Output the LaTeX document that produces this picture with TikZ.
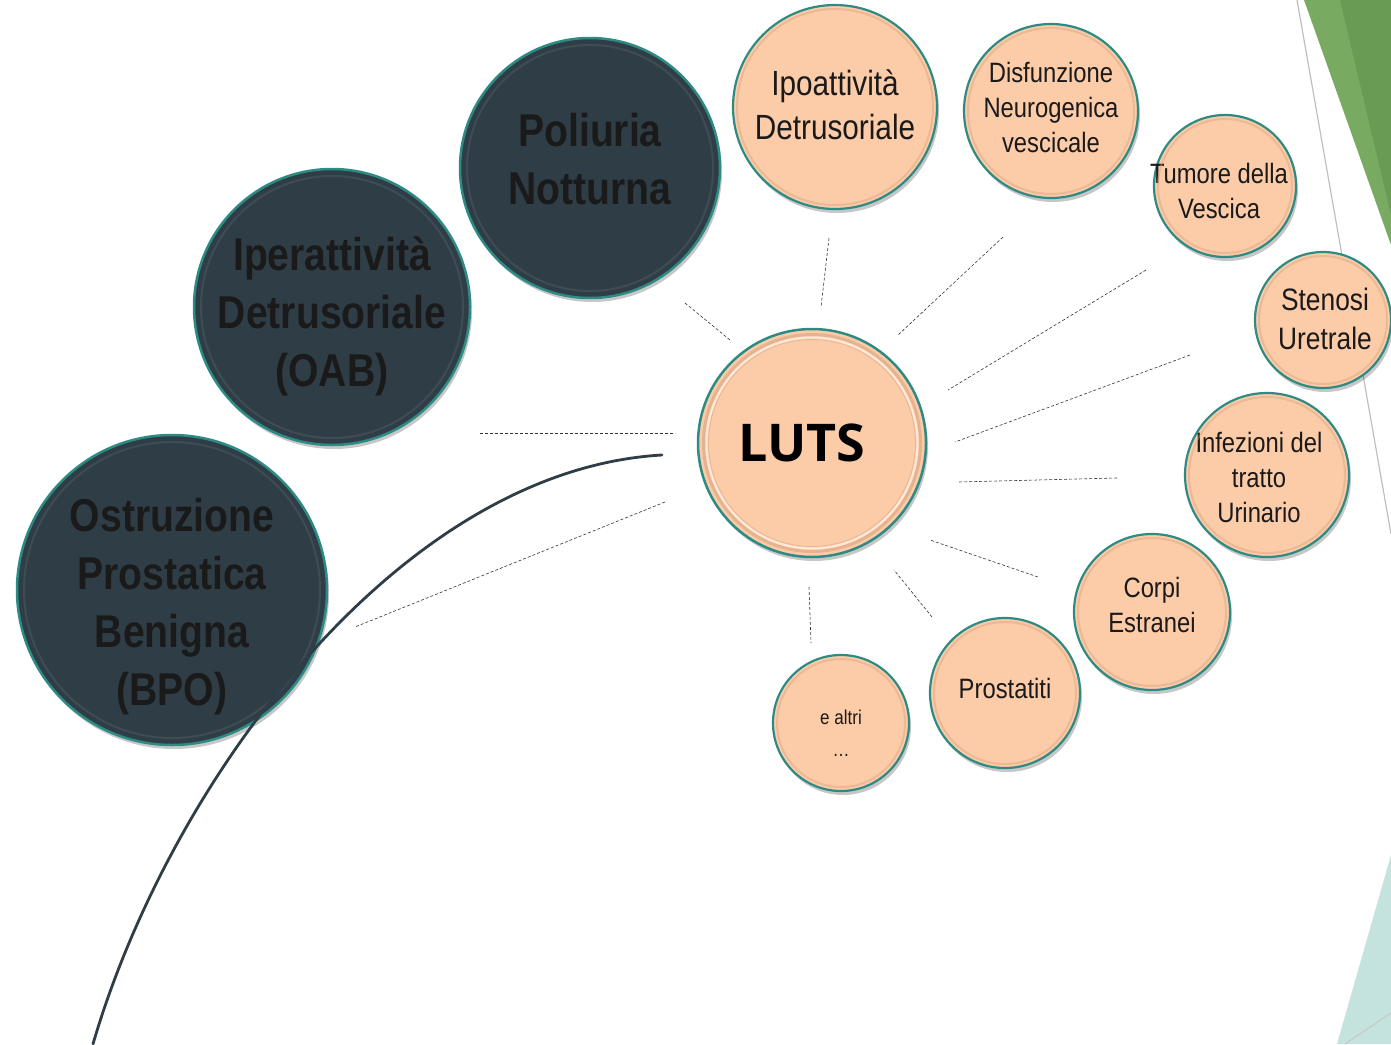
\documentclass[tikz,border=0pt]{standalone}
\usepackage{fontspec}
\setmainfont{Liberation Sans}
\newfontfamily\narrow[FakeStretch=0.85]{Liberation Sans}
\newfontfamily\lutsfont{Open Sans}
\usetikzlibrary{shadows}
\definecolor{darkfill}{HTML}{2F3D46}
\definecolor{peach}{HTML}{FCCBA8}
\definecolor{peachdark}{HTML}{D9A27E}
\definecolor{rim}{HTML}{2E8B84}
\definecolor{greenA}{HTML}{78AA62}
\definecolor{greenB}{HTML}{6A9B55}
\definecolor{tealbg}{HTML}{C4E3DF}
\definecolor{txt}{HTML}{1A1A1A}
\newcommand{\ctext}[2][0pt]{\makebox[0pt]{\smash{\raisebox{#1}{\begin{tabular}{@{}c@{}}#2\end{tabular}}}}}
\tikzset{
  ball/.style={circle, inner sep=0pt, outer sep=0pt, text=txt,
    drop shadow={shadow xshift=2pt, shadow yshift=-4pt, opacity=0.22, fill=black}},
  darkball/.style={ball, fill=darkfill, draw=rim, line width=2.5pt,
    font=\narrow\bfseries\fontsize{46}{58}\selectfont},
  peachball/.style={ball, fill=peach, draw=rim, line width=2.2pt,
    font=\narrow\fontsize{28}{35}\selectfont},
  innerrim/.style={peachdark, line width=2pt, opacity=0.45},
  darkrim/.style={white, line width=2pt, opacity=0.08},
  spoke/.style={densely dashed, line width=0.6pt, black!80},
  arcline/.style={line width=2.8pt, darkfill, line cap=round}
}
\begin{document}
\begin{tikzpicture}[x=1pt, y=-1pt]
\useasboundingbox (0,0) rectangle (1391,1044);
% background decorations
\fill[greenA] (1304,0) -- (1391,0) -- (1391,245) -- cycle;
\fill[greenB] (1340,0) -- (1391,0) -- (1391,215) -- cycle;
\draw[black!25, line width=1.2pt] (1297,0) -- (1391,534);
\fill[tealbg] (1391,855) -- (1391,1044) -- (1337,1044) -- cycle;
\draw[black!22, line width=1pt] (1391,1013) -- (1345,1044);

% spoke end points
\coordinate (s1a) at (685,303); \coordinate (s1b) at (730,340);
\coordinate (s2a) at (829,238); \coordinate (s2b) at (821,307);
\coordinate (s3a) at (1003,237); \coordinate (s3b) at (898,335);
\coordinate (s4a) at (1146,270); \coordinate (s4b) at (948,390);
\coordinate (s5a) at (1190,355); \coordinate (s5b) at (955,442);
\coordinate (s6a) at (1117,478); \coordinate (s6b) at (958,482);
\coordinate (s7a) at (1038,577); \coordinate (s7b) at (930,540);
\coordinate (s8a) at (932,617); \coordinate (s8b) at (894,570);
\coordinate (s9a) at (809,587); \coordinate (s9b) at (811,643);
\coordinate (s10a) at (665,502); \coordinate (s10b) at (355,627);
\coordinate (s11a) at (480,433); \coordinate (s11b) at (675,433);
\foreach \i in {1,...,11} \draw[spoke] (s\i a) -- (s\i b);

% dark circles
\node[darkball, minimum size=310] (bpo) at (172,590) {\ctext[-23pt]{Ostruzione\\Prostatica\\Benigna\\(BPO)}};
\node[darkball, minimum size=276] (oab) at (332,307) {\ctext[-16pt]{Iperattività\\Detrusoriale\\(OAB)}};
\node[darkball, minimum size=260] (poli) at (590,168) {\ctext[-2pt]{Poliuria\\Notturna}};
\foreach \n/\r in {bpo/148, oab/131, poli/123}
  \draw[darkrim] (\n.center) circle (\r);

% peach circles
\node[peachball, minimum size=204, font=\narrow\fontsize{35}{44}\selectfont] (ipo) at (835,107) {\ctext[-8pt]{Ipoattività\\Detrusoriale}};
\node[peachball, minimum size=174] (disf) at (1051,111) {\ctext[-6pt]{Disfunzione\\Neurogenica\\vescicale}};
\node[peachball, minimum size=142] (tum) at (1225,186) {\ctext[-14pt]{\hspace*{-12pt}Tumore della\\\hspace*{-12pt}Vescica}};
\node[peachball, minimum size=136, font=\narrow\fontsize{31}{39}\selectfont] (sten) at (1323,320) {\ctext[-8pt]{\hspace*{4pt}Stenosi\\\hspace*{4pt}Uretrale}};
\node[peachball, minimum size=164] (inf) at (1267,475) {\ctext[-12pt]{\hspace*{-16pt}Infezioni del\\\hspace*{-16pt}tratto\\\hspace*{-16pt}Urinario}};
\node[peachball, minimum size=156] (corpi) at (1152,612) {\ctext[-2pt]{Corpi\\Estranei}};
\node[peachball, minimum size=150] (prost) at (1005,693) {\ctext[-5pt]{Prostatiti}};
\node[peachball, minimum size=136, font=\narrow\fontsize{20}{32}\selectfont] (altri) at (841,723) {\ctext[-16pt]{e altri\\…}};

% subtle inner rims
\foreach \n/\r in {ipo/98, disf/83, tum/67, sten/64, inf/78, corpi/74, prost/71, altri/64}
  \draw[innerrim] (\n.center) circle (\r);

% LUTS
\node[ball, minimum size=228, fill=peach, draw=rim, line width=2.5pt,
  font=\lutsfont\bfseries\fontsize{52}{60}\selectfont, text=black] (luts) at (812,443) {\ctext[-13pt]{\hspace*{-20pt}LUTS}};
\draw[peachdark, line width=3pt, opacity=0.6] (luts.center) circle (108.5);
\draw[white!60!peach, line width=2pt] (luts.center) circle (105.5);
\draw[peachdark, line width=0.8pt, opacity=0.5] (luts.center) circle (103.5);

% arc curve
\coordinate (arcstart) at (93,1044);
\coordinate (arcend) at (662,455);
\draw[arcline] (arcstart) .. controls (170,780) and (400,470) .. (arcend);
\end{tikzpicture}
\end{document}
